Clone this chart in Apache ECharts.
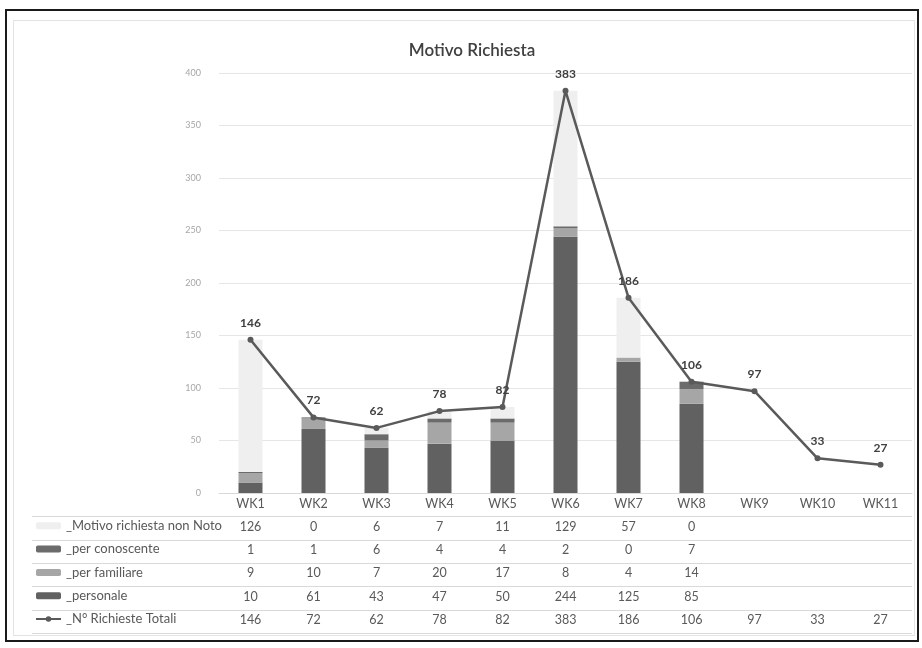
<!DOCTYPE html>
<html>
	<head>
		<meta charset="utf-8">
		<title>Motivo Richiesta</title>
		<script src="https://cdn.jsdelivr.net/npm/echarts@6/dist/echarts.min.js"></script>
		<style>
			html, body { margin: 0; padding: 0; background: #fff; }
			#chart { width: 922px; height: 648px; }
		</style>
	</head>
	<body>
		<div id="chart"></div>
		<script>
			// dati
			const categories = ['WK1', 'WK2', 'WK3', 'WK4', 'WK5', 'WK6', 'WK7', 'WK8', 'WK9', 'WK10', 'WK11'];
			const nonNoto    = [126, 0, 6, 7, 11, 129, 57, 0, null, null, null];
			const conoscente = [1, 1, 6, 4, 4, 2, 0, 7, null, null, null];
			const familiare  = [9, 10, 7, 20, 17, 8, 4, 14, null, null, null];
			const personale  = [10, 61, 43, 47, 50, 244, 125, 85, null, null, null];
			const totali     = [146, 72, 62, 78, 82, 383, 186, 106, 97, 33, 27];

			const names = {
				nonNoto: '_Motivo richiesta non Noto',
				conoscente: '_per conoscente',
				familiare: '_per familiare',
				personale: '_personale',
				totali: '_N° Richieste Totali'
			};
			// righe della tabella dati, nello stesso ordine della legenda
			const tableRows = [nonNoto, conoscente, familiare, personale, totali];

			const FONT = 'Lato';
			const rowH = 23.3;
			const gridLeft = 219, gridRight = 10, gridTop = 73, gridBottom = 155;
			const axisY = 648 - gridBottom;
			const lineColor = '#d9d9d9';

			const chart = echarts.init(document.getElementById('chart'), null, { renderer: 'canvas' });

			// asse principale (intestazione WK) + un asse per ogni riga della tabella
			const xAxes = [{
				type: 'category',
				data: categories,
				axisLine: { lineStyle: { color: lineColor } },
				axisTick: { length: rowH * 6, lineStyle: { color: lineColor } },
				axisLabel: { margin: 4, fontSize: 12.5, color: '#595959', fontFamily: FONT }
			}];
			tableRows.forEach(function (row, k) {
				xAxes.push({
					type: 'category',
					data: categories,
					position: 'bottom',
					offset: rowH * (k + 1),
					axisLine: { show: false },
					axisTick: { show: false },
					axisLabel: {
						margin: 4, fontSize: 12.5, color: '#595959', fontFamily: FONT, interval: 0,
						formatter: function (v, i) { return row[i] == null ? '' : String(row[i]); }
					}
				});
			});

			// righe orizzontali della tabella
			const tableLines = [];
			for (let k = 1; k <= 6; k++) {
				const y = Math.round(axisY + rowH * k) + 0.5;
				tableLines.push({
					type: 'line',
					shape: { x1: 32, y1: y, x2: 922 - gridRight, y2: y },
					style: { stroke: lineColor, lineWidth: 1 },
					silent: true
				});
			}

			const barBase = { type: 'bar', stack: 'motivo', barWidth: 24, xAxisIndex: 0 };

			const option = {
				backgroundColor: '#fff',
				animation: false,
				textStyle: { fontFamily: FONT },
				title: {
					text: 'Motivo Richiesta',
					left: 467,
					textAlign: 'center',
					top: 37,
					textStyle: { fontSize: 17, fontWeight: 600, color: '#404040', fontFamily: FONT }
				},
				grid: { left: gridLeft, right: gridRight, top: gridTop, bottom: gridBottom },
				legend: {
					orient: 'vertical',
					left: 30,
					top: axisY + rowH - 3,
					itemWidth: 25,
					itemHeight: 7,
					itemGap: rowH - 15,
					selectedMode: false,
					textStyle: { fontSize: 13, color: '#595959', lineHeight: 15, fontFamily: FONT },
					data: [names.nonNoto, names.conoscente, names.familiare, names.personale, names.totali]
				},
				xAxis: xAxes,
				yAxis: {
					type: 'value',
					min: 0,
					max: 400,
					interval: 50,
					axisLine: { show: false },
					axisTick: { show: false },
					axisLabel: { fontSize: 9, color: '#a6a6a6', margin: 18, fontFamily: FONT },
					splitLine: { lineStyle: { color: '#e6e6e6' } }
				},
				graphic: [
					{
						type: 'rect',
						shape: { x: 6, y: 10, width: 912, height: 631 },
						style: { fill: 'none', stroke: '#1a1a1a', lineWidth: 2 },
						silent: true
					},
					{
						type: 'rect',
						shape: { x: 13.5, y: 20.5, width: 901, height: 615 },
						style: { fill: 'none', stroke: '#e3e3e3', lineWidth: 1 },
						silent: true
					}
				].concat(tableLines),
				series: [
					Object.assign({ name: names.personale, data: personale, itemStyle: { color: '#616161' } }, barBase),
					Object.assign({ name: names.familiare, data: familiare, itemStyle: { color: '#a6a6a6' } }, barBase),
					Object.assign({ name: names.conoscente, data: conoscente, itemStyle: { color: '#6b6b6b' } }, barBase),
					Object.assign({ name: names.nonNoto, data: nonNoto, itemStyle: { color: '#efefef' } }, barBase),
					{
						name: names.totali,
						type: 'line',
						data: totali,
						z: 5,
						symbol: 'circle',
						symbolSize: 6,
						itemStyle: { color: '#5a5a5a' },
						lineStyle: { color: '#5a5a5a', width: 2.5 },
						label: {
							show: true,
							position: 'top',
							distance: 8,
							fontSize: 12,
							fontWeight: 'bold',
							color: '#404040',
							fontFamily: FONT
						}
					}
				]
			};
			chart.setOption(option);
		</script>
	</body>
</html>
